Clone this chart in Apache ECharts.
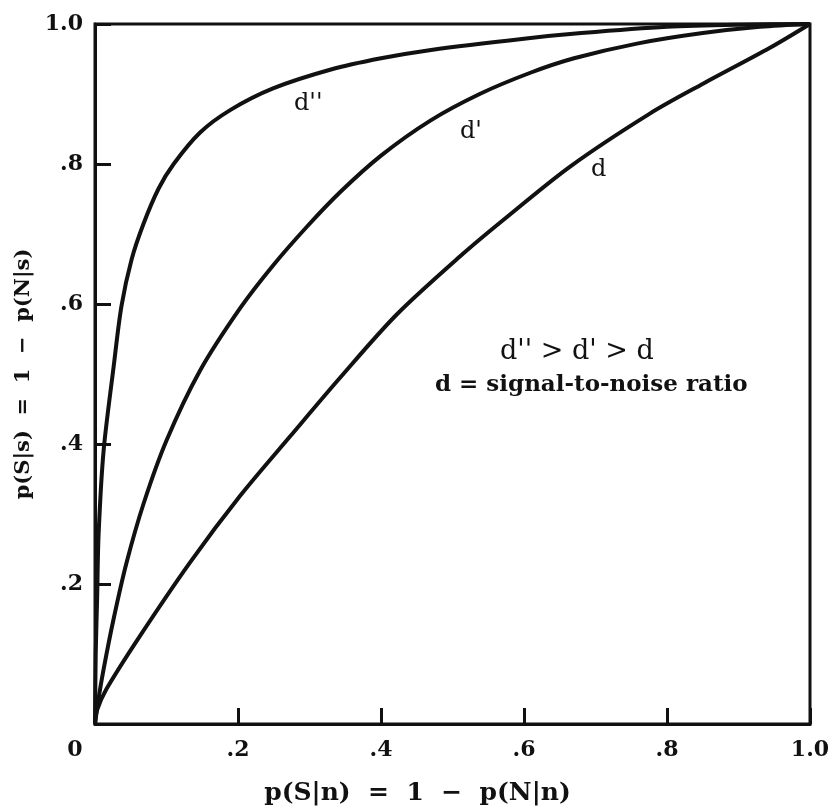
<!DOCTYPE html>
<html>
<head>
<meta charset="utf-8">
<script src="https://cdn.jsdelivr.net/npm/echarts@6/dist/echarts.min.js"></script>
<style>html,body{margin:0;padding:0;background:#fff}#c{width:834px;height:811px}</style>
</head>
<body>
<div id="c"></div>
<script>
// Tick values / labels
const xTicks = [0, 0.2, 0.4, 0.6, 0.8, 1.0];
const xTickLabels = ['0', '.2', '.4', '.6', '.8', '1.0'];
const yTickLabels = ['', '.2', '.4', '.6', '.8', '1.0'];

// Curve d''
const dppX = [0, 0.001, 0.003, 0.005, 0.012, 0.026, 0.037, 0.051, 0.068, 0.089, 0.11, 0.147, 0.189, 0.249, 0.33, 0.4, 0.47, 0.6, 0.68, 0.8, 0.9, 1];
const dppY = [0, 0.1, 0.18, 0.27, 0.39, 0.51, 0.597, 0.663, 0.715, 0.765, 0.8, 0.845, 0.877, 0.908, 0.935, 0.951, 0.963, 0.979, 0.987, 0.996, 0.999, 1];
// Curve d'
const dpX = [0, 0.004, 0.012, 0.026, 0.044, 0.068, 0.1, 0.147, 0.203, 0.249, 0.296, 0.343, 0.4, 0.469, 0.538, 0.608, 0.67, 0.758, 0.85, 0.93, 1];
const dpY = [0, 0.03, 0.078, 0.15, 0.23, 0.315, 0.405, 0.505, 0.594, 0.655, 0.71, 0.76, 0.812, 0.862, 0.9, 0.93, 0.951, 0.972, 0.987, 0.996, 1];
// Curve d
const dX = [0, 0.003, 0.016, 0.063, 0.133, 0.203, 0.273, 0.343, 0.422, 0.515, 0.571, 0.664, 0.776, 0.851, 0.944, 1];
const dY = [0, 0.02, 0.05, 0.126, 0.231, 0.326, 0.411, 0.495, 0.585, 0.672, 0.72, 0.796, 0.872, 0.915, 0.966, 1];

const curveNames = ["d''", "d'", "d"];
const zip = (xs, ys) => xs.map((x, i) => [x, ys[i]]);

const FONT = 'DejaVu Serif';
const INK = '#111';

const lineSeries = (name, data) => ({
  name, type: 'line', data, symbol: 'none', smooth: 0.3,
  lineStyle: { color: INK, width: 4 }, z: 3
});

const chart = echarts.init(document.getElementById('c'));
chart.setOption({
  animation: false,
  backgroundColor: '#fff',
  grid: { left: 95, right: 24, top: 24, bottom: 86, show: true, borderColor: INK, borderWidth: 3, backgroundColor: 'transparent' },
  xAxis: {
    type: 'value', min: 0, max: 1, interval: 0.2,
    name: 'p(S|n)  =  1  −  p(N|n)', nameLocation: 'middle', nameGap: 57,
    nameTextStyle: { fontFamily: FONT, fontSize: 25, fontWeight: 'bold', color: INK, padding: [0, 70, 0, 0] },
    axisLine: { show: true, lineStyle: { color: INK, width: 3 } },
    axisTick: { show: true, inside: true, length: 16, lineStyle: { color: INK, width: 3 } },
    splitLine: { show: false },
    axisLabel: {
      fontFamily: FONT, fontSize: 22, fontWeight: 'bold', color: INK, margin: 15,
      formatter: v => {
        const i = xTicks.findIndex(t => Math.abs(t - v) < 1e-9);
        const s = i >= 0 ? xTickLabels[i] : '';
        return v === 0 ? '{z|' + s + '}' : s;
      },
      rich: { z: { fontFamily: FONT, fontSize: 22, fontWeight: 'bold', color: INK, padding: [0, 40, 0, 0] } }
    }
  },
  yAxis: {
    type: 'value', min: 0, max: 1, interval: 0.2,
    name: 'p(S|s)  =  1  −  p(N|s)', nameLocation: 'middle', nameGap: 55, nameRotate: 90,
    nameTextStyle: { fontFamily: FONT, fontSize: 21, fontWeight: 'bold', color: INK },
    axisLine: { show: true, lineStyle: { color: INK, width: 3 } },
    axisTick: { show: true, inside: true, length: 16, lineStyle: { color: INK, width: 3 } },
    splitLine: { show: false },
    axisLabel: {
      fontFamily: FONT, fontSize: 22, fontWeight: 'bold', color: INK, margin: 12,
      formatter: v => {
        const i = xTicks.findIndex(t => Math.abs(t - v) < 1e-9);
        return i >= 0 ? yTickLabels[i] : '';
      }
    }
  },
  series: [
    lineSeries(curveNames[0], zip(dppX, dppY)),
    lineSeries(curveNames[1], zip(dpX, dpY)),
    lineSeries(curveNames[2], zip(dX, dY))
  ],
  graphic: [
    { type: 'text', left: 294, top: 92, style: { text: curveNames[0], font: '24px "DejaVu Serif"', fill: INK } },
    { type: 'text', left: 460, top: 120, style: { text: curveNames[1], font: '24px "DejaVu Serif"', fill: INK } },
    { type: 'text', left: 591, top: 158, style: { text: curveNames[2], font: '24px "DejaVu Serif"', fill: INK } },
    { type: 'text', left: 500, top: 338, style: { text: "d'' > d' > d", font: '27px "DejaVu Serif"', fill: INK } },
    { type: 'text', left: 435, top: 374, style: { text: 'd = signal-to-noise ratio', font: 'bold 23px "DejaVu Serif"', fill: INK } }
  ]
});
</script>
</body>
</html>
